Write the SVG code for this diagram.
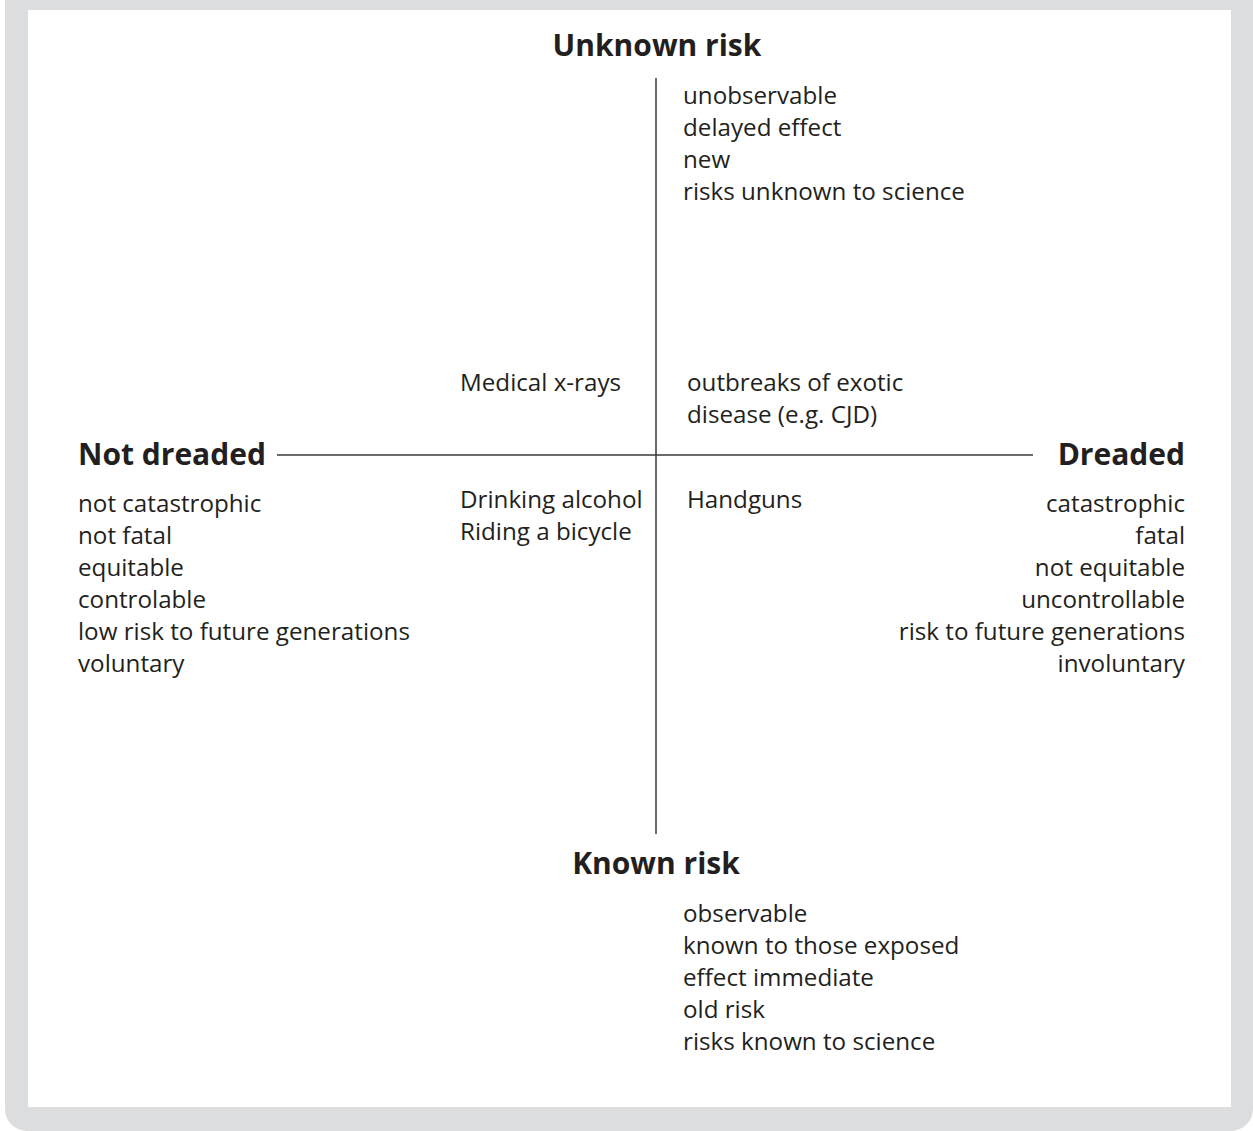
<svg xmlns="http://www.w3.org/2000/svg" width="1253" height="1131" viewBox="0 0 1253 1131">
<style>
text{font-family:"Open Sans","Noto Sans","DejaVu Sans",sans-serif;fill:#231f20}
.h{font-weight:bold;font-size:30px}
.t{font-size:24.2px}
.r{text-anchor:end}
.m{text-anchor:middle}
.ax{stroke:#3a3a3a;stroke-width:1.5;fill:none}
</style>
<rect x="0" y="0" width="1253" height="1131" fill="#ffffff"/>
<rect id="frame" x="5" y="-40" width="1248" height="1171" rx="22" fill="#dcdddf"/>
<rect x="28" y="10" width="1203" height="1097" fill="#ffffff"/>
<g id="connectors">
<line class="ax" x1="656" y1="78" x2="656" y2="834"/>
<line class="ax" x1="277" y1="455" x2="1033" y2="455"/>
</g>
<g id="unknown">
<text class="h m" x="657" y="56">Unknown risk</text>
<text class="t" x="683" y="104">unobservable</text>
<text class="t" x="683" y="136">delayed effect</text>
<text class="t" x="683" y="168">new</text>
<text class="t" x="683" y="200">risks unknown to science</text>
</g>
<g id="known">
<text class="h m" x="656" y="874">Known risk</text>
<text class="t" x="683" y="922">observable</text>
<text class="t" x="683" y="954">known to those exposed</text>
<text class="t" x="683" y="986">effect immediate</text>
<text class="t" x="683" y="1018">old risk</text>
<text class="t" x="683" y="1050">risks known to science</text>
</g>
<g id="notdreaded">
<text class="h" x="78" y="465">Not dreaded</text>
<text class="t" x="78" y="512">not catastrophic</text>
<text class="t" x="78" y="544">not fatal</text>
<text class="t" x="78" y="576">equitable</text>
<text class="t" x="78" y="608">controlable</text>
<text class="t" x="78" y="640">low risk to future generations</text>
<text class="t" x="78" y="672">voluntary</text>
</g>
<g id="dreaded">
<text class="h r" x="1185" y="465">Dreaded</text>
<text class="t r" x="1185" y="512">catastrophic</text>
<text class="t r" x="1185" y="544">fatal</text>
<text class="t r" x="1185" y="576">not equitable</text>
<text class="t r" x="1185" y="608">uncontrollable</text>
<text class="t r" x="1185" y="640">risk to future generations</text>
<text class="t r" x="1185" y="672">involuntary</text>
</g>
<g id="medical">
<text class="t" x="460" y="391">Medical x-rays</text>
</g>
<g id="outbreaks">
<text class="t" x="687" y="391">outbreaks of exotic</text>
<text class="t" x="687" y="423">disease (e.g. CJD)</text>
</g>
<g id="alcohol">
<text class="t" x="460" y="508">Drinking alcohol</text>
<text class="t" x="460" y="540">Riding a bicycle</text>
</g>
<g id="handguns">
<text class="t" x="687" y="508">Handguns</text>
</g>
</svg>
